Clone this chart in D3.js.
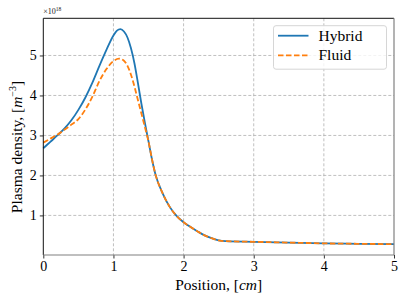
<!DOCTYPE html>
<html>
<head>
<meta charset="utf-8">
<script src="https://cdn.jsdelivr.net/npm/d3@7"></script>
<style>
body { margin:0; background:#fff; }
svg text { font-family:"Liberation Serif", "Times New Roman", "DejaVu Serif", serif !important; }
.grid line { stroke:#b0b0b0; stroke-dasharray:3,2; stroke-width:0.8; }
</style>
</head>
<body>
<svg id="chart"></svg>
<script>
// positions in cm, densities in units of 1e18 m^-3
var hybridX = [0, 0.1, 0.2, 0.3, 0.4, 0.5, 0.6, 0.7, 0.8, 0.9, 1.0, 1.05, 1.1, 1.15, 1.2, 1.25, 1.3, 1.35, 1.4, 1.45,
               1.5, 1.55, 1.6, 1.7, 1.8, 1.9, 2.0, 2.1, 2.2, 2.3, 2.4, 2.5, 2.6, 3.0, 3.5, 4.0, 4.5, 5.0];
var hybridY = [2.68, 2.84, 3.0, 3.17, 3.38, 3.64, 3.95, 4.32, 4.74, 5.14, 5.5, 5.62, 5.66, 5.6, 5.45, 5.18, 4.8, 4.3, 3.78, 3.3,
               2.85, 2.4, 2.02, 1.56, 1.22, 0.99, 0.83, 0.71, 0.6, 0.5, 0.43, 0.375, 0.355, 0.34, 0.32, 0.30, 0.29, 0.28];
var fluidX = [0, 0.1, 0.2, 0.3, 0.4, 0.5, 0.6, 0.7, 0.8, 0.9, 1.0, 1.08, 1.15, 1.2, 1.25, 1.3, 1.35, 1.4, 1.45,
              1.5, 1.55, 1.6, 1.7, 1.8, 1.9, 2.0, 2.1, 2.2, 2.3, 2.4, 2.5, 2.6, 3.0, 3.5, 4.0, 4.5, 5.0];
var fluidY = [2.82, 2.92, 3.02, 3.14, 3.27, 3.41, 3.65, 3.97, 4.36, 4.66, 4.86, 4.92, 4.87, 4.74, 4.52, 4.22, 3.88, 3.54, 3.2,
              2.85, 2.4, 2.02, 1.56, 1.22, 0.99, 0.83, 0.71, 0.6, 0.5, 0.43, 0.375, 0.355, 0.34, 0.32, 0.30, 0.29, 0.28];
var xTicks = [0, 1, 2, 3, 4, 5];
var yTicks = [1, 2, 3, 4, 5];
var seriesNames = ["Hybrid", "Fluid"];
var seriesColors = ["#1f77b4", "#ff7f0e"];

var screen = {width:407, height:305};
var margins = {top:18.3, bottom:50, left:43.3, right:13};
var graph = {
    width: screen.width - margins.left - margins.right,
    height: screen.height - margins.top - margins.bottom
};

var svg = d3.select("#chart")
    .attr("width", screen.width)
    .attr("height", screen.height);

var xScale = d3.scaleLinear().domain([0, 5]).range([0, graph.width]);
var yScale = d3.scaleLinear().domain([0.01, 5.93]).range([graph.height, 0]);

var g = svg.append("g")
    .attr("transform", "translate(" + margins.left + "," + margins.top + ")");

// grid
var grid = g.append("g").classed("grid", true);
grid.selectAll(".vx").data(xTicks.slice(1, 5)).enter().append("line")
    .attr("x1", d => xScale(d)).attr("x2", d => xScale(d))
    .attr("y1", 0).attr("y2", graph.height);
grid.selectAll(".hy").data(yTicks).enter().append("line")
    .attr("x1", 0).attr("x2", graph.width)
    .attr("y1", d => yScale(d)).attr("y2", d => yScale(d));

// lines
var series = [
    {name: seriesNames[0], color: seriesColors[0], dash: null, pts: hybridX.map((x, i) => [x, hybridY[i]])},
    {name: seriesNames[1], color: seriesColors[1], dash: "5.5,2.5", pts: fluidX.map((x, i) => [x, fluidY[i]])}
];
var line = d3.line()
    .x(d => xScale(d[0]))
    .y(d => yScale(d[1]))
    .curve(d3.curveMonotoneX);

series.forEach(function(s) {
    g.append("path")
        .attr("d", line(s.pts))
        .attr("fill", "none")
        .attr("stroke", s.color)
        .attr("stroke-width", 1.8)
        .attr("stroke-dasharray", s.dash);
});

// axes
var xAxis = d3.axisBottom(xScale).tickValues(xTicks).tickSize(3.5).tickPadding(3).tickFormat(d3.format("d"));
var yAxis = d3.axisLeft(yScale).tickValues(yTicks).tickSize(3.5).tickPadding(3).tickFormat(d3.format("d"));

var xg = g.append("g").attr("transform", "translate(0," + graph.height + ")").call(xAxis);
var yg = g.append("g").call(yAxis);
[xg, yg].forEach(function(a) {
    a.select(".domain").remove();
    a.selectAll("text").attr("font-size", 14).attr("fill", "#000");
    a.selectAll("line").attr("stroke", "#333");
});

// spines
g.append("line").attr("x1", 0).attr("x2", graph.width).attr("y1", 0).attr("y2", 0).attr("stroke", "#111").attr("stroke-width", 1);
g.append("line").attr("x1", 0).attr("x2", 0).attr("y1", 0).attr("y2", graph.height).attr("stroke", "#111").attr("stroke-width", 1);
g.append("line").attr("x1", graph.width).attr("x2", graph.width).attr("y1", 0).attr("y2", graph.height).attr("stroke", "#808080").attr("stroke-width", 1.2);
g.append("line").attr("x1", 0).attr("x2", graph.width).attr("y1", graph.height).attr("y2", graph.height).attr("stroke", "#808080").attr("stroke-width", 1.2);

// offset text
var off = svg.append("text")
    .attr("x", margins.left)
    .attr("y", 14)
    .attr("font-size", 8)
    .attr("fill", "#222");
off.append("tspan").text("\u00d710");
off.append("tspan").attr("font-size", 5.5).attr("dy", -3).text("18");

// axis labels
var xl = svg.append("text")
    .attr("x", margins.left + graph.width / 2)
    .attr("y", 290)
    .attr("text-anchor", "middle")
    .attr("font-size", 15.5);
xl.append("tspan").text("Position, [");
xl.append("tspan").attr("font-style", "italic").text("cm");
xl.append("tspan").text("]");

var yl = svg.append("text")
    .attr("transform", "translate(22,147) rotate(-90)")
    .attr("text-anchor", "middle")
    .attr("font-size", 15.5);
yl.append("tspan").text("Plasma density, [");
yl.append("tspan").attr("font-style", "italic").text("m");
yl.append("tspan").attr("font-size", 10).attr("dy", -6).text("\u22123");
yl.append("tspan").attr("dy", 6).text("]");

// legend
var legend = svg.append("g").attr("transform", "translate(273.5,25.7)");
legend.append("rect")
    .attr("width", 113).attr("height", 43.5)
    .attr("rx", 2.5)
    .attr("fill", "#fff").attr("fill-opacity", 0.8)
    .attr("stroke", "#d6d6d6").attr("stroke-width", 1);
series.forEach(function(s, i) {
    var row = legend.append("g").attr("transform", "translate(0," + (10 + i * 19.6) + ")");
    row.append("line")
        .attr("x1", 4.5).attr("x2", 35)
        .attr("stroke", s.color).attr("stroke-width", 1.8)
        .attr("stroke-dasharray", s.dash);
    row.append("text")
        .attr("x", 45).attr("y", 4.8)
        .attr("font-size", 15.5)
        .text(s.name);
});
</script>
</body>
</html>
